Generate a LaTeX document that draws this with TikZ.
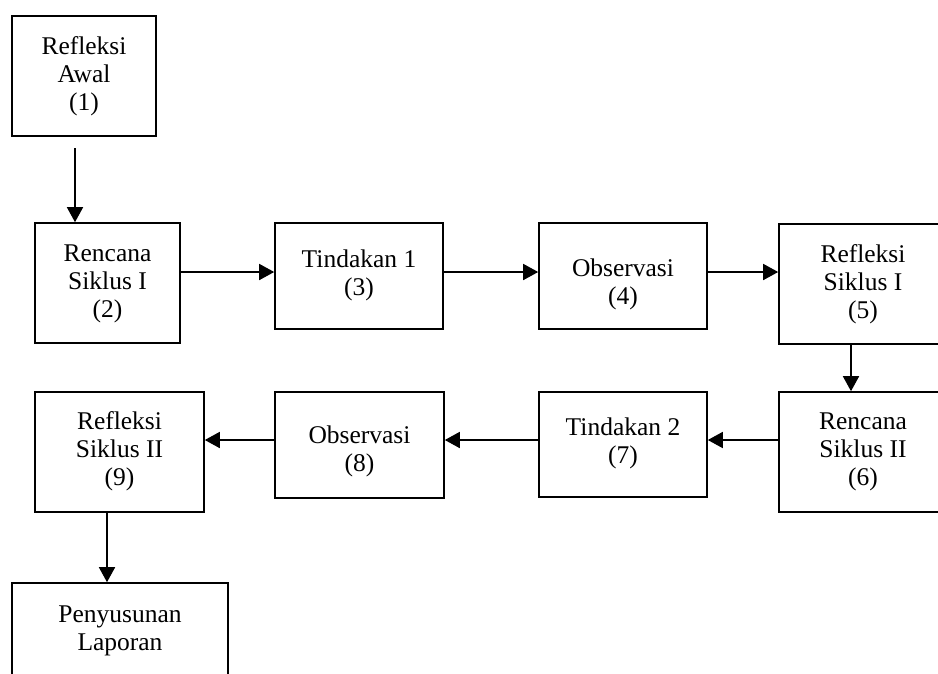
\documentclass[tikz,border=0pt]{standalone}
\usepackage{fontspec}
\setmainfont{Liberation Serif}
\usetikzlibrary{arrows.meta}
\begin{document}
\begin{tikzpicture}[x=1pt,y=-1pt,
  box/.style={draw=black, line width=1.6pt, minimum width=#1, inner sep=0pt, fill=none},
  txt/.style={align=center, inner sep=0pt, font=\fontsize{25.5}{28}\selectfont},
  arr/.style={line width=1.6pt, -{Triangle[length=15pt,width=16pt]}}]
\useasboundingbox (0,0) rectangle (938,673);
\clip (0,0) rectangle (938,673);
% boxes
\node[box=144pt, minimum height=120pt] (b1) at (84,76) {};
\node[box=145pt, minimum height=120pt] (b2) at (107.5,283) {};
\node[box=168pt, minimum height=106pt] (b3) at (359,276) {};
\node[box=168pt, minimum height=106pt] (b4) at (623,276) {};
\node[box=168pt, minimum height=120pt] (b5) at (863,284) {};
\node[box=168pt, minimum height=120pt] (b6) at (863,452) {};
\node[box=168pt, minimum height=105pt] (b7) at (623,444.5) {};
\node[box=169pt, minimum height=106pt] (b8) at (359.5,445) {};
\node[box=169pt, minimum height=120pt] (b9) at (119.5,452) {};
\node[box=216pt, minimum height=120pt] (b10) at (120,643) {};
% texts
\node[txt] (t1) at (84,76) {Refleksi\\Awal\\(1)};
\node[txt] (t2) at (107.5,284) {Rencana\\Siklus I\\(2)};
\node[txt] (t3) at (359,275) {Tindakan 1\\(3)};
\node[txt] (t4) at (623,284) {Observasi\\(4)};
\node[txt] (t5) at (863,284) {Refleksi\\Siklus I\\(5)};
\node[txt] (t6) at (863,452) {Rencana\\Siklus II\\(6)};
\node[txt] (t7) at (623,443) {Tindakan 2\\(7)};
\node[txt] (t8) at (359.5,451) {Observasi\\(8)};
\node[txt] (t9) at (119.5,451) {Refleksi\\Siklus II\\(9)};
\node[txt] (t10) at (120,631) {Penyusunan\\Laporan};
% helper coordinates
\coordinate (s1) at (75,148);
\coordinate (r1) at (0,272);
\coordinate (r2) at (0,440);
\coordinate (c5) at (851,0);
\coordinate (c9) at (107,0);
% connectors
\draw[arr] (s1) -- (s1 |- b2.north);
\draw[arr] (b2.east |- r1) -- (b3.west |- r1);
\draw[arr] (b3.east |- r1) -- (b4.west |- r1);
\draw[arr] (b4.east |- r1) -- (b5.west |- r1);
\draw[arr] (c5 |- b5.south) -- (c5 |- b6.north);
\draw[arr] (b6.west |- r2) -- (b7.east |- r2);
\draw[arr] (b7.west |- r2) -- (b8.east |- r2);
\draw[arr] (b8.west |- r2) -- (b9.east |- r2);
\draw[arr] (c9 |- b9.south) -- (c9 |- b10.north);
\end{tikzpicture}
\end{document}
